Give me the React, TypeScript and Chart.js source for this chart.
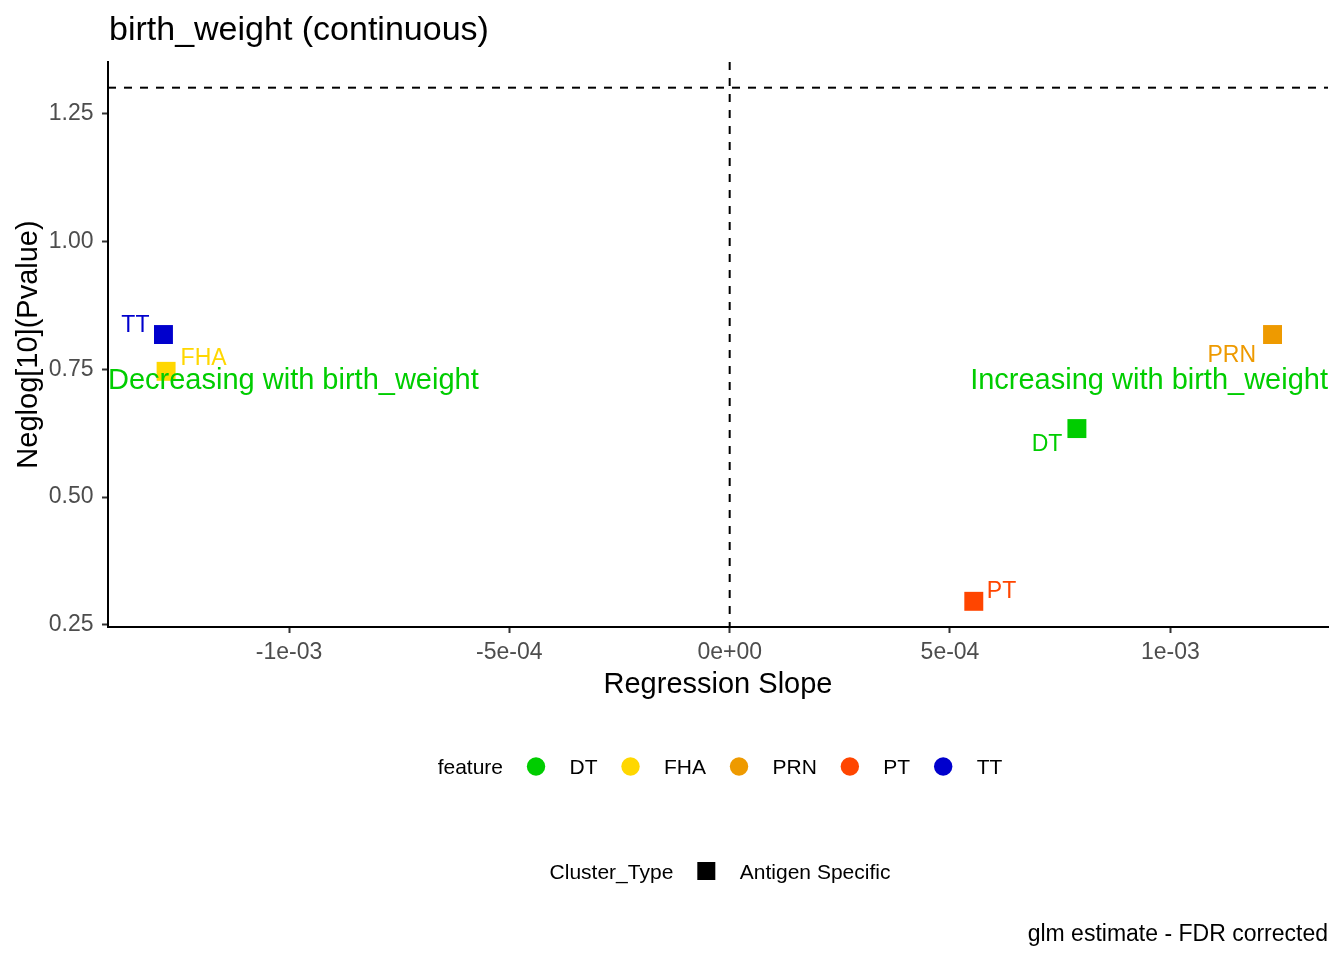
import { useEffect, useRef } from "react";
import { Chart, registerables } from "chart.js";
import type { ChartConfiguration, Plugin } from "chart.js";

Chart.register(...registerables);

// ---------------------------------------------------------------------------
// data
// ---------------------------------------------------------------------------
const FEATURES = ["DT", "FHA", "PRN", "PT", "TT"];
const FEATURE_COLORS = ["#00CD00", "#FFD700", "#EE9A00", "#FF4500", "#0000CD"];
const SLOPES = [0.000788, -0.001279, 0.001232, 0.000554, -0.001285];
const NEGLOG_P = [0.634, 0.746, 0.818, 0.296, 0.818];

const X_TICKS = [-0.001, -0.0005, 0, 0.0005, 0.001];
const X_TICK_LABELS = ["-1e-03", "-5e-04", "0e+00", "5e-04", "1e-03"];
const Y_TICKS = [0.25, 0.5, 0.75, 1.0, 1.25];
const Y_TICK_LABELS = ["0.25", "0.50", "0.75", "1.00", "1.25"];

const SIG_LINE = 1.301; // -log10(0.05)
const ZERO_LINE = 0;
const ANNOT_Y = 0.728;

const CLUSTER_TYPES = ["Antigen Specific"];

// ---------------------------------------------------------------------------
// styling / layout
// ---------------------------------------------------------------------------
const FONT = "'Liberation Sans', Arial, Helvetica, sans-serif";
const GREEN = "#00CD00";

// where ggrepel put each label, relative to its point (px)
const LABEL_NUDGE: Record<string, { dx: number; dy: number; align: CanvasTextAlign }> = {
  DT: { dx: -14.5, dy: 22.5, align: "right" },
  FHA: { dx: 14.5, dy: -6, align: "left" },
  PRN: { dx: -16.5, dy: 27.5, align: "right" },
  PT: { dx: 13, dy: -3, align: "left" },
  TT: { dx: -14, dy: -2.5, align: "right" },
};

// ggplot-style 5% expansion of the trained range
const expand = (vals: number[]) => {
  const lo = Math.min(...vals);
  const hi = Math.max(...vals);
  const pad = (hi - lo) * 0.05;
  return [lo - pad, hi + pad];
};
const [X_MIN, X_MAX] = expand([...SLOPES, ZERO_LINE]);
const [Y_MIN, Y_MAX] = expand([...NEGLOG_P, SIG_LINE]);

const overlayPlugin: Plugin<"scatter"> = {
  id: "overlay",
  beforeDatasetsDraw(chart) {
    const { ctx, chartArea, scales } = chart;
    ctx.save();
    ctx.strokeStyle = "#000000";
    ctx.lineWidth = 2;
    ctx.setLineDash([8, 8]);
    const yS = scales.y.getPixelForValue(SIG_LINE);
    ctx.beginPath();
    ctx.moveTo(chartArea.left, yS);
    ctx.lineTo(chartArea.right, yS);
    ctx.stroke();
    const x0 = scales.x.getPixelForValue(ZERO_LINE);
    ctx.beginPath();
    ctx.moveTo(x0, chartArea.top);
    ctx.lineTo(x0, chartArea.bottom);
    ctx.stroke();
    ctx.restore();
  },
  afterDatasetsDraw(chart) {
    const { ctx, chartArea, scales } = chart;
    ctx.save();
    // point labels
    ctx.font = `23px ${FONT}`;
    ctx.textBaseline = "alphabetic";
    FEATURES.forEach((f, i) => {
      const n = LABEL_NUDGE[f];
      const px = scales.x.getPixelForValue(SLOPES[i]);
      const py = scales.y.getPixelForValue(NEGLOG_P[i]);
      ctx.fillStyle = FEATURE_COLORS[i];
      ctx.textAlign = n.align;
      ctx.fillText(f, px + n.dx, py + n.dy);
    });
    // direction annotations
    ctx.font = `29px ${FONT}`;
    ctx.fillStyle = GREEN;
    ctx.textBaseline = "middle";
    const ay = scales.y.getPixelForValue(ANNOT_Y);
    ctx.textAlign = "left";
    ctx.fillText("Decreasing with birth_weight", chartArea.left, ay);
    ctx.textAlign = "right";
    ctx.fillText("Increasing with birth_weight", chartArea.right, ay);
    ctx.restore();
  },
  afterDraw(chart) {
    const { ctx, chartArea } = chart;
    ctx.save();
    // title
    ctx.font = `34px ${FONT}`;
    ctx.fillStyle = "#000000";
    ctx.textAlign = "left";
    ctx.textBaseline = "alphabetic";
    ctx.fillText("birth_weight (continuous)", chartArea.left + 1, 40);

    // legends
    const centerX = (chartArea.left + chartArea.right) / 2 + 2;
    const gapToKey = 33;
    const gapToLabel = 33.5;
    ctx.font = `21px ${FONT}`;

    // feature legend
    const featTitle = "feature";
    let total = ctx.measureText(featTitle).width;
    FEATURES.forEach((f) => {
      total += gapToKey + gapToLabel + ctx.measureText(f).width;
    });
    let x = centerX - total / 2;
    const row1Base = 774;
    const row1Key = 766.5;
    ctx.fillStyle = "#000000";
    ctx.fillText(featTitle, x, row1Base);
    x += ctx.measureText(featTitle).width;
    FEATURES.forEach((f, i) => {
      x += gapToKey;
      ctx.fillStyle = FEATURE_COLORS[i];
      ctx.beginPath();
      ctx.arc(x, row1Key, 9.2, 0, Math.PI * 2);
      ctx.fill();
      x += gapToLabel;
      ctx.fillStyle = "#000000";
      ctx.fillText(f, x, row1Base);
      x += ctx.measureText(f).width;
    });

    // cluster type legend
    const ctTitle = "Cluster_Type";
    total = ctx.measureText(ctTitle).width;
    CLUSTER_TYPES.forEach((c) => {
      total += gapToKey + gapToLabel + ctx.measureText(c).width;
    });
    x = centerX - total / 2;
    const row2Base = 879;
    const row2Key = 871;
    ctx.fillText(ctTitle, x, row2Base);
    x += ctx.measureText(ctTitle).width;
    CLUSTER_TYPES.forEach((c) => {
      x += gapToKey;
      ctx.fillStyle = "#000000";
      ctx.fillRect(x - 9, row2Key - 9, 18, 18);
      x += gapToLabel;
      ctx.fillText(c, x, row2Base);
      x += ctx.measureText(c).width;
    });

    // caption
    ctx.font = `23px ${FONT}`;
    ctx.textAlign = "right";
    ctx.fillStyle = "#000000";
    ctx.fillText("glm estimate - FDR corrected", chartArea.right, 940.5);
    ctx.restore();
  },
};

const createChartConfig = (): ChartConfiguration<"scatter"> => ({
  type: "scatter",
  data: {
    datasets: FEATURES.map((f, i) => ({
      label: f,
      data: [{ x: SLOPES[i], y: NEGLOG_P[i] }],
      backgroundColor: FEATURE_COLORS[i],
      borderWidth: 0,
      pointStyle: "rect",
      pointRadius: 13.4,
      pointHoverRadius: 13.4,
    })),
  },
  options: {
    animation: false,
    responsive: true,
    maintainAspectRatio: false,
    events: [],
    layout: { padding: { left: 0, right: 16, top: 62, bottom: 233 } },
    plugins: {
      legend: { display: false },
      tooltip: { enabled: false },
      title: { display: false },
    },
    scales: {
      x: {
        type: "linear",
        min: X_MIN,
        max: X_MAX,
        border: { display: true, color: "#000000", width: 2 },
        grid: {
          display: true,
          drawOnChartArea: false,
          drawTicks: true,
          tickLength: 6,
          tickColor: "#333333",
          tickWidth: 2,
        },
        ticks: {
          color: "#4D4D4D",
          font: { family: FONT, size: 23 },
          padding: 6,
          maxRotation: 0,
          callback: (_v, i) => X_TICK_LABELS[i],
        },
        afterBuildTicks: (scale) => {
          scale.ticks = X_TICKS.map((value) => ({ value }));
        },
        afterFit: (scale) => {
          scale.height = 100;
        },
        title: {
          display: true,
          text: "Regression Slope",
          color: "#000000",
          font: { family: FONT, size: 29 },
          padding: { top: 0, bottom: 24.3 },
        },
      },
      y: {
        type: "linear",
        min: Y_MIN,
        max: Y_MAX,
        border: { display: true, color: "#000000", width: 2 },
        grid: {
          display: true,
          drawOnChartArea: false,
          drawTicks: true,
          tickLength: 6,
          tickColor: "#333333",
          tickWidth: 2,
        },
        ticks: {
          color: "#4D4D4D",
          font: { family: FONT, size: 23 },
          padding: 8.5,
          callback: (_v, i) => Y_TICK_LABELS[i],
        },
        afterBuildTicks: (scale) => {
          scale.ticks = Y_TICKS.map((value) => ({ value }));
        },
        afterFit: (scale) => {
          scale.width = 108;
        },
        title: {
          display: true,
          text: "Neglog[10](Pvalue)",
          color: "#000000",
          font: { family: FONT, size: 29 },
          padding: { top: 12, bottom: 0 },
        },
      },
    },
  },
  plugins: [overlayPlugin],
});

export default function App() {
  const canvasRef = useRef<HTMLCanvasElement>(null);

  useEffect(() => {
    document.body.style.margin = "0";
    if (!canvasRef.current) return;
    const chart = new Chart(canvasRef.current, createChartConfig());
    return () => {
      chart.destroy();
    };
  }, []);

  return (
    <div
      style={{
        position: "absolute",
        left: 0,
        top: 0,
        width: 1344,
        height: 960,
        background: "#ffffff",
      }}
    >
      <canvas ref={canvasRef} />
    </div>
  );
}
